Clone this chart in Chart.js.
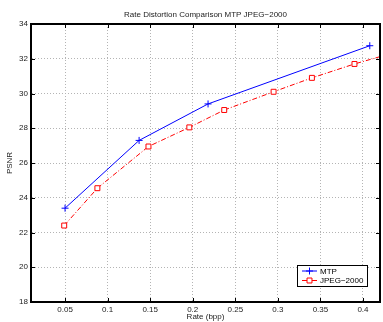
<!DOCTYPE html>
<html>
<head>
<meta charset="utf-8">
<script src="https://cdn.jsdelivr.net/npm/chart.js@4.4.1/dist/chart.umd.min.js"></script>
<style>
    html, body { margin: 0; padding: 0; background: #fff; }
    #wrap { width: 383px; height: 322px; overflow: hidden; }
</style>
</head>
<body>
<div id="wrap"><canvas id="rdChart" width="385" height="322"></canvas></div>
<script>
// data
const rateMtp = [0.05, 0.137, 0.218, 0.408];
const psnrMtp = [23.4, 27.3, 29.4, 32.75];
const rateJpeg = [0.049, 0.088, 0.148, 0.196, 0.237, 0.295, 0.340, 0.390, 0.44];
const psnrJpeg = [22.4, 24.55, 26.95, 28.05, 29.05, 30.1, 30.9, 31.7, 32.4];
const xTicks = [0.05, 0.1, 0.15, 0.2, 0.25, 0.3, 0.35, 0.4];
const yTicks = [18, 20, 22, 24, 26, 28, 30, 32, 34];
const seriesNames = ['MTP', 'JPEG\u22122000'];

const font = { family: '"Liberation Sans", Arial, sans-serif', size: 8, weight: 'normal' };

function toPoints(xs, ys) {
    return xs.map((x, i) => ({ x: x, y: ys[i] }));
}

// box, inward ticks and legend like the matlab figure
const matlabFrame = {
    id: 'matlabFrame',
    afterDraw(chart) {
        const ctx = chart.ctx;
        const a = chart.chartArea;
        const xs = chart.scales.x;
        const ys = chart.scales.y;
        ctx.save();
        ctx.strokeStyle = '#000';
        ctx.lineWidth = 2;
        ctx.beginPath();
        ctx.moveTo(a.left, a.top);
        ctx.lineTo(a.right, a.top);
        ctx.lineTo(a.right, a.bottom);
        ctx.stroke();

        ctx.lineWidth = 1;
        ctx.beginPath();
        xs.ticks.forEach(t => {
            const px = Math.round(xs.getPixelForValue(t.value)) + 0.5;
            ctx.moveTo(px, a.bottom); ctx.lineTo(px, a.bottom - 4);
            ctx.moveTo(px, a.top); ctx.lineTo(px, a.top + 4);
        });
        ys.ticks.forEach(t => {
            const py = Math.round(ys.getPixelForValue(t.value)) + 0.5;
            ctx.moveTo(a.left, py); ctx.lineTo(a.left + 4, py);
            ctx.moveTo(a.right, py); ctx.lineTo(a.right - 4, py);
        });
        ctx.stroke();

        // legend
        const lx = 297, ly = 265, lw = 70, lh = 21;
        ctx.fillStyle = '#fff';
        ctx.fillRect(lx, ly, lw, lh);
        ctx.strokeStyle = '#000';
        ctx.lineWidth = 1;
        ctx.strokeRect(lx + 0.5, ly + 0.5, lw, lh);

        chart.data.datasets.forEach((ds, i) => {
            const cy = ly + 6 + i * 9.5;
            ctx.strokeStyle = ds.borderColor;
            ctx.lineWidth = 1;
            ctx.setLineDash(ds.borderDash || []);
            ctx.beginPath();
            ctx.moveTo(lx + 5, cy); ctx.lineTo(lx + 20, cy);
            ctx.stroke();
            ctx.setLineDash([]);
            ctx.fillStyle = '#fff';
            Chart.helpers.drawPoint(ctx, {
                pointStyle: ds.pointStyle,
                radius: ds.pointRadius,
                borderWidth: 1
            }, lx + 12.5, cy);
            ctx.fillStyle = '#000';
            ctx.font = '8px "Liberation Sans", Arial, sans-serif';
            ctx.textBaseline = 'middle';
            ctx.fillText(seriesNames[i], lx + 23, cy + 0.5);
        });
        ctx.restore();
    }
};

new Chart(document.getElementById('rdChart'), {
    type: 'line',
    data: {
        datasets: [{
            label: seriesNames[0],
            data: toPoints(rateMtp, psnrMtp),
            borderColor: '#0000ff',
            backgroundColor: '#0000ff',
            borderWidth: 1,
            pointStyle: 'cross',
            pointRadius: 3.5,
            pointBorderWidth: 1,
            tension: 0
        }, {
            label: seriesNames[1],
            data: toPoints(rateJpeg, psnrJpeg),
            borderColor: '#ff0000',
            backgroundColor: '#ffffff',
            borderWidth: 1,
            borderDash: [5, 2, 1, 2],
            pointStyle: 'rect',
            pointRadius: 3.5,
            pointBorderWidth: 1,
            tension: 0
        }]
    },
    options: {
        responsive: false,
        animation: false,
        layout: { padding: { top: 0, right: 1, left: 0, bottom: 0 } },
        plugins: {
            legend: { display: false },
            tooltip: { enabled: false },
            title: {
                display: true,
                text: 'Rate Distortion Comparison MTP JPEG\u22122000',
                color: '#222',
                font: font,
                fullSize: false,
                padding: { top: 10, bottom: 4.4 }
            }
        },
        scales: {
            x: {
                type: 'linear',
                min: 0.01,
                max: 0.42,
                afterBuildTicks: s => { s.ticks = xTicks.map(v => ({ value: v })); },
                afterFit: s => { s.height = 20; },
                grid: { color: '#b4b4b4', drawTicks: false },
                border: { color: '#000', width: 2, dash: [1, 2] },
                ticks: { color: '#222', font: font, padding: 3, maxRotation: 0,
                         callback: v => String(v) },
                title: { display: true, text: 'Rate (bpp)', color: '#222', font: font,
                         padding: { top: 0, bottom: 0 } }
            },
            y: {
                min: 18,
                max: 34,
                afterBuildTicks: s => { s.ticks = yTicks.map(v => ({ value: v })); },
                afterFit: s => { s.width = 31; },
                grid: { color: '#b4b4b4', drawTicks: false },
                border: { color: '#000', width: 2, dash: [1, 2] },
                ticks: { color: '#222', font: font, padding: 3 },
                title: { display: true, text: 'PSNR', color: '#222', font: font,
                         padding: { top: 5, bottom: 0 } }
            }
        }
    },
    plugins: [matlabFrame]
});
</script>
</body>
</html>
